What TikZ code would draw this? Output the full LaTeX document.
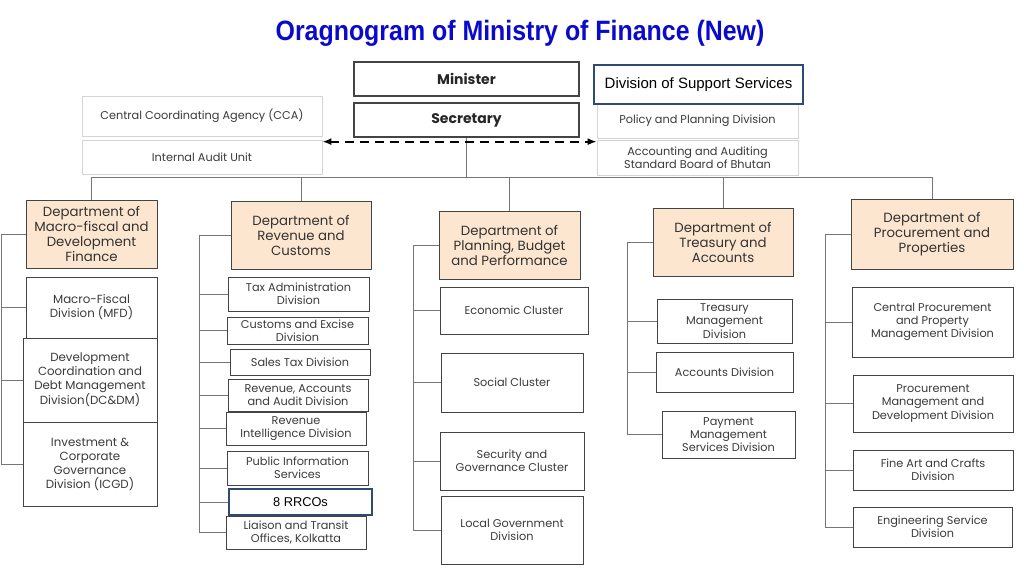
\documentclass[tikz,border=0pt]{standalone}
\usepackage{fontspec}
\setmainfont{Poppins}
\newfontfamily\arialf{Liberation Sans}
\newfontfamily\titlef[FakeStretch=0.89]{Liberation Sans}
\usetikzlibrary{arrows.meta}
\definecolor{peach}{HTML}{FCE6CF}
\definecolor{bdcol}{HTML}{444444}
\definecolor{lbdcol}{HTML}{D4D4D4}
\definecolor{lncol}{HTML}{767676}
\definecolor{txtcol}{HTML}{3A3A3A}
\definecolor{navyb}{HTML}{2F4A75}
\definecolor{ttlcol}{HTML}{0A0ACD}
\newcommand{\obox}[7]{\node[#2, minimum width={#5-#3}, minimum height={#6-#4}] (#1) at ({(#3+#5)/2},{-(#4+#6)/2}) {#7};}
\tikzset{
  subbox/.style={draw=bdcol, line width=0.9pt, inner sep=0pt, align=center, text=txtcol, font=\fontsize{11.3}{13.3}\selectfont},
  bigsub/.style={subbox, font=\fontsize{11.8}{14}\selectfont},
  deptbox/.style={subbox, fill=peach, font=\fontsize{13.3}{15}\selectfont, text=black!80},
  lightbox/.style={subbox, draw=lbdcol, line width=0.7pt},
  headbox/.style={subbox, line width=1.1pt, font=\bfseries\fontsize{14}{15}\selectfont, text=black!85},
  bluebox/.style={subbox, draw=navyb, line width=1.5pt, font=\arialf\fontsize{15}{17}\selectfont, text=black},
  bluesm/.style={subbox, draw=navyb, line width=1.5pt, font=\arialf\fontsize{12.8}{14}\selectfont, text=black},
  lnk/.style={draw=lncol, line width=1pt},
}
\begin{document}
\begin{tikzpicture}[x=1pt,y=1pt]
\useasboundingbox (0,0) rectangle (1024,-567);
\node[font=\titlef\bfseries\fontsize{28}{30}\selectfont, text=ttlcol] (title) at (520,-33) {Oragnogram of Ministry of Finance (New)};

\obox{min}{headbox}{354}{62}{579}{96}{Minister}
\obox{sec}{headbox}{354}{103}{579}{137}{Secretary}
\obox{cca}{lightbox}{82}{96}{322}{136}{Central Coordinating Agency (CCA)}
\obox{iau}{lightbox}{82}{140}{322}{174}{Internal Audit Unit}
\obox{ppd}{lightbox}{597}{104}{798}{138}{Policy and Planning Division}
\obox{aas}{lightbox}{597}{140}{798}{175}{Accounting and Auditing\\Standard Board of Bhutan}
\obox{dss}{bluebox}{594}{65}{803}{104}{Division of Support Services}

\obox{d1}{deptbox}{26}{200}{157}{268}{Department of\\Macro-fiscal and\\Development\\Finance}
\obox{d2}{deptbox}{231}{201}{371}{269}{Department of\\Revenue and\\Customs}
\obox{d3}{deptbox}{439}{211}{580}{279}{Department of\\Planning, Budget\\and Performance}
\obox{d4}{deptbox}{653}{208}{793}{276}{Department of\\Treasury and\\Accounts}
\obox{d5}{deptbox}{851}{199}{1013}{269}{Department of\\Procurement and\\Properties}

\obox{mfd}{bigsub}{26}{277}{157}{338}{Macro-Fiscal\\Division (MFD)}
\obox{dcd}{bigsub}{23}{338}{157}{422}{Development\\Coordination and\\Debt Management\\Division(DC\&DM)}
\obox{icg}{bigsub}{23}{422}{157}{506}{Investment \&\\Corporate\\Governance\\Division (ICGD)}

\obox{tax}{subbox}{228}{277}{369}{311}{Tax Administration\\Division}
\obox{cus}{subbox}{227}{317}{368}{344}{Customs and Excise\\Division}
\obox{sal}{subbox}{230}{349}{370}{375}{Sales Tax Division}
\obox{rac}{subbox}{228}{379}{368}{411}{Revenue, Accounts\\and Audit Division}
\obox{rin}{subbox}{226}{412}{366}{445}{Revenue\\Intelligence Division}
\obox{pis}{subbox}{227}{451}{368}{485}{Public Information\\Services}
\obox{rrc}{bluesm}{229}{489}{372}{515}{8 RRCOs}
\obox{lto}{subbox}{226}{516}{366}{549}{Liaison and Transit\\Offices, Kolkatta}

\obox{eco}{subbox}{440}{287}{588}{334}{Economic Cluster}
\obox{soc}{subbox}{441}{353}{583}{412}{Social Cluster}
\obox{sgc}{subbox}{440}{432}{584}{490}{Security and\\Governance Cluster}
\obox{lgd}{subbox}{441}{496}{583}{564}{Local Government\\Division}

\obox{tmd}{subbox}{657}{299}{792}{343}{Treasury\\Management\\Division}
\obox{acd}{subbox}{656}{352}{793}{392}{Accounts Division}
\obox{pmd}{subbox}{662}{411}{795}{458}{Payment\\Management\\Services Division}

\obox{cpp}{subbox}{852}{287}{1013}{357}{Central Procurement\\and Property\\Management Division}
\obox{pmg}{subbox}{853}{375}{1013}{432}{Procurement\\Management and\\Development Division}
\obox{fac}{subbox}{853}{450}{1013}{490}{Fine Art and Crafts\\Division}
\obox{esd}{subbox}{853}{507}{1012}{547}{Engineering Service\\Division}

% bus
\draw[lnk] (sec.south) -- ++(0,-40) coordinate (bus);
\foreach \d in {d1,d2,d3,d4,d5} \draw[lnk] (\d.north) |- (bus);

% trees
\draw[lnk] (d1.west) -- ++(-24,0) coordinate (t1);
\foreach \c in {mfd,dcd,icg} \draw[lnk] (t1) |- (\c.west);
\draw[lnk] (d2.west) -- ++(-31,0) coordinate (t2);
\foreach \c in {tax,cus,sal,rac,rin,pis,rrc,lto} \draw[lnk] (t2) |- (\c.west);
\draw[lnk] (d3.west) -- ++(-25,0) coordinate (t3);
\foreach \c in {eco,soc,sgc,lgd} \draw[lnk] (t3) |- (\c.west);
\draw[lnk] (d4.west) -- ++(-25,0) coordinate (t4);
\foreach \c in {tmd,acd,pmd} \draw[lnk] (t4) |- (\c.west);
\draw[lnk] (d5.west) -- ++(-25,0) coordinate (t5);
\foreach \c in {cpp,pmg,fac,esd} \draw[lnk] (t5) |- (\c.west);

% dashed link
\draw[line width=1.8pt, dash pattern=on 9pt off 6pt, {Latex[length=9pt,width=7pt]}-{Latex[length=9pt,width=7pt]}]
  ([yshift=-2pt]iau.north east) -- ([yshift=-2pt]aas.north west);
\end{tikzpicture}
\end{document}
